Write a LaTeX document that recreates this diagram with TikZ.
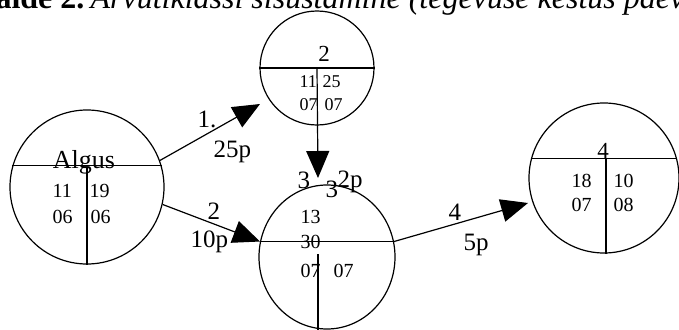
\documentclass[tikz,border=0pt]{standalone}
\usepackage{fontspec}
\setmainfont{Liberation Serif}
\usetikzlibrary{shapes.geometric, arrows.meta, positioning, calc}

\begin{document}
\begin{tikzpicture}[x=1pt, y=-1pt, line width=1.2pt,
  every node/.style={inner sep=0pt},
  ring/.style={draw, circle, line width=1.2pt},
  arr/.style={-{Triangle[length=27pt, width=23pt]}},
  lbl/.style={font=\fontsize{25}{29}\selectfont, anchor=base west},
  num/.style={font=\fontsize{20}{23}\selectfont, anchor=base west},
  small/.style={font=\fontsize{18}{21}\selectfont, anchor=base west}]
  \useasboundingbox (0,0) rectangle (679,329);
  \clip (0,0) rectangle (679,329);
  % title, cut off at the top
  \node (titleb) [anchor=base east, font=\fontsize{32}{36}\selectfont\bfseries] at (85,9) {Näide 2.};
  \node (titlei) [anchor=base west, font=\fontsize{32}{36}\selectfont\itshape] at (90,9) {Arvutiklassi sisustamine (tegevuse kestus päevades)};

  % events
  \node (algus) [ring, minimum size=154pt] at (87,187) {};
  \node (n2) [ring, minimum size=114pt] at (317,68) {};
  \node (n3) [draw, ellipse, minimum width=136pt, minimum height=144pt] at (327,257) {};
  \node (n4) [ring, minimum size=150pt] at (604,178) {};

  \draw (algus.164) -- (algus.16);
  \draw ($(algus.center)+(0,-19)$) -- (algus.south);
  \draw (n2.west) -- (n2.east);
  \draw (n3.167) -- (n3.13);
  \draw ($(n3.center)+(-9,-3)$) -- ($(n3.south)+(-9,0)$);
  \draw (n4.165) -- (n4.15);
  \draw ($(n4.center)+(2,-19)$) -- ($(n4.south)+(2,0)$);

  \node (algusname) [anchor=base, font=\fontsize{26}{30}\selectfont] at (84,168) {Algus};
  \node (a11) [num] at (52,197) {11};
  \node (a19) [num] at (89,197) {19};
  \node (a06l) [num] at (52,223) {06};
  \node (a06r) [num] at (90,223) {06};

  \node (n2name) [anchor=base, font=\fontsize{23}{27}\selectfont] at (324,62) {2};
  \node (b11) [small] at (299,87) {11};
  \node (b25) [small] at (322,87) {25};
  \node (b07l) [small] at (299,110) {07};
  \node (b07r) [small] at (324,110) {07};

  \node (c13) [num] at (300,223) {13};
  \node (c30) [num] at (300,248) {30};
  \node (c07l) [num] at (300,277) {07};
  \node (c07r) [num] at (333,277) {07};

  \node (n4name) [anchor=base, font=\fontsize{23}{27}\selectfont] at (603,158) {4};
  \node (d18) [num] at (571,187) {18};
  \node (d10) [num] at (613,187) {10};
  \node (d07) [num] at (571,211) {07};
  \node (d08) [num] at (613,211) {08};

  % activities
  \coordinate (t1) at (260,104);
  \coordinate (t3) at (318,178);
  \coordinate (t4) at (528,203);
  \draw[arr] (algus.20) -- (t1);
  \draw[arr] (algus.-13) -- (n3.167);
  \draw[arr] (n2.center) -- (t3);
  \draw[arr] (n3.13) -- (t4);

  \node (l1) [lbl] at (197,127) {1.};
  \node (l1d) [lbl] at (213,157) {25p};
  \node (l2) [lbl] at (207,219) {2};
  \node (l2d) [lbl] at (190,247) {10p};
  \node (l3) [lbl] at (297,188) {3};
  \node (l3b) [lbl] at (325,197) {3};
  \node (l3d) [lbl] at (337,187) {2p};
  \node (l4) [lbl] at (448,220) {4};
  \node (l4d) [lbl] at (463,250) {5p};
\end{tikzpicture}
\end{document}
